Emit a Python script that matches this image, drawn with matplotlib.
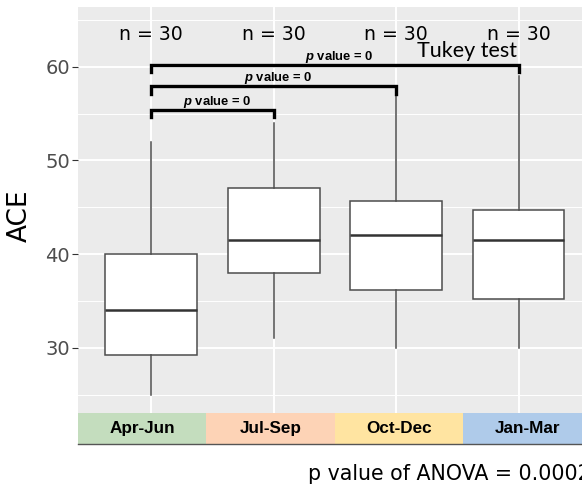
import matplotlib.pyplot as plt
from matplotlib.patches import Rectangle

# Kvartaler og boxplot-statistik
quarters = ["Apr-Jun", "Jul-Sep", "Oct-Dec", "Jan-Mar"]
q_colors = ["#C4DDBE", "#FDD3B6", "#FFE4A1", "#AFCBEA"]
whisker_low = [25, 31, 30, 30]
q1 = [29.2, 38.0, 36.2, 35.2]
median = [34.0, 41.5, 42.0, 41.5]
q3 = [40.0, 47.0, 45.7, 44.7]
whisker_high = [52, 54, 57, 59]
n_obs = [30, 30, 30, 30]

# Tukey-sammenligninger: (fra, til, bracket-højde)
tukey_pairs = [(1, 2, 55.4), (1, 3, 57.9), (1, 4, 60.2)]
tukey_labels = ["0", "0", "0"]
anova_p = "0.0002"

plt.rcParams["mathtext.fontset"] = "custom"
plt.rcParams["mathtext.it"] = "Liberation Sans:italic:bold"

fig = plt.figure(figsize=(5.82, 4.94), dpi=100)
ax = fig.add_axes([77.7 / 582, 1 - 413.3 / 494, (592 - 77.7) / 582, (413.3 - 7.3) / 494])
ax.set_facecolor("#EBEBEB")
for s in ax.spines.values():
    s.set_visible(False)

stats = []
for i in range(len(quarters)):
    stats.append({"med": median[i], "q1": q1[i], "q3": q3[i],
                  "whislo": whisker_low[i], "whishi": whisker_high[i], "fliers": []})
ax.bxp(stats, positions=range(1, 5), widths=0.75, patch_artist=True, showcaps=False,
       boxprops=dict(facecolor="white", edgecolor="#4D4D4D", linewidth=1.1),
       medianprops=dict(color="#333333", linewidth=1.8),
       whiskerprops=dict(color="#4D4D4D", linewidth=1.1), zorder=3)

ax.set_xlim(0.4, 4.6)
ax.set_ylim(23.0, 66.34)
ax.set_yticks([30, 40, 50, 60])
ax.set_yticks([25, 35, 45, 55, 65], minor=True)
ax.set_xticks(range(1, 5))
ax.set_xticklabels([])
ax.grid(True, which="major", color="white", linewidth=1.4, zorder=0)
ax.grid(True, which="minor", axis="y", color="white", linewidth=0.7, zorder=0)
ax.set_axisbelow(True)
ax.tick_params(axis="x", length=0)
ax.tick_params(axis="y", which="major", length=4, width=0.8, color="#333333",
               labelsize=14, labelcolor="#4D4D4D", pad=1.5)
ax.tick_params(axis="y", which="minor", length=0)
ax.set_ylabel("ACE", fontsize=19, color="black")
ax.yaxis.set_label_coords(-0.087, 0.486)

# n = 30 over hver boks
for i, n in enumerate(n_obs):
    ax.text(i + 1, 62.85, f"n = {n}", ha="center", va="baseline", fontsize=13.6,
            color="black", zorder=4)

# Tukey brackets
narrow = ["Liberation Sans", "DejaVu Sans"]
for (a, b, h), lab in zip(tukey_pairs, tukey_labels):
    ax.plot([a, a, b, b], [h - 0.8, h, h, h - 0.8], color="black", linewidth=2.4,
            solid_joinstyle="miter", zorder=4)
    ax.text((a + b) / 2 + 0.04, h + 0.55, r"$\mathit{p}$ value = " + lab, ha="center",
            va="baseline", fontsize=9.4, fontweight="bold", family=narrow, zorder=4)
ax.text(3.58, 61.07, "Tukey test", ha="center", va="baseline", fontsize=15.5,
        family=["Lato", "DejaVu Sans"], color="black", zorder=4)

# farvet strip med kvartalsnavne
sh = 31 / 406
for i, (q, c) in enumerate(zip(quarters, q_colors)):
    ax.add_patch(Rectangle((i * 0.25, -sh), 0.25, sh, transform=ax.transAxes,
                           facecolor=c, edgecolor="none", clip_on=False))
    ax.text(i * 0.25 + 0.125, -sh / 2, q, transform=ax.transAxes, ha="center",
            va="center", fontsize=12.3, fontweight="bold", family=narrow)
ax.plot([0, 1], [-sh, -sh], transform=ax.transAxes, color="#555555",
        linewidth=1.0, clip_on=False)

fig.text(308 / 582, 1 - 480 / 494, "p value of ANOVA = " + anova_p, ha="left",
         va="baseline", fontsize=14.8, color="black")

fig.savefig("out.png", dpi=100)
